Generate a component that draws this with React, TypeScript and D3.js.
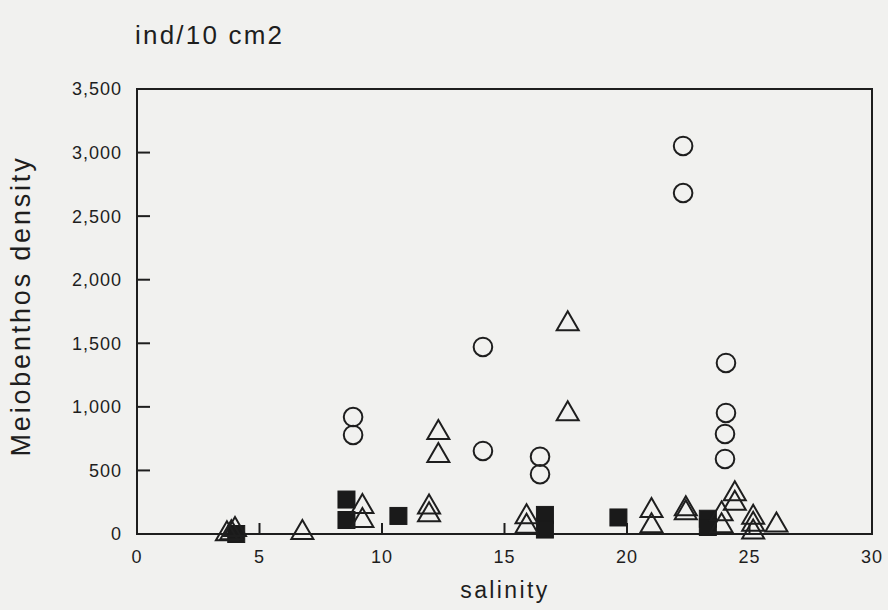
import React from "react";
import * as d3 from "d3";

const W = 888;
const H = 610;

const xTicks = [0, 5, 10, 15, 20, 25, 30];
const yTicks = [0, 500, 1000, 1500, 2000, 2500, 3000, 3500];

// open circles
const circleSalinity = [8.82, 8.82, 14.12, 14.12, 16.45, 16.45, 22.29, 22.29, 24.04, 24.04, 24.0, 24.0];
const circleDensity = [920, 779, 1471, 653, 608, 470, 3052, 2682, 1345, 952, 787, 590];

// open triangles
const triSalinity = [3.67, 4.0, 3.85, 6.75, 9.2, 9.2, 11.92, 11.92, 12.3, 12.3, 15.9, 15.9, 17.58, 17.58, 21.0, 21.0, 22.4, 22.4, 23.86, 23.86, 24.4, 24.4, 25.15, 25.15, 25.15, 26.1];
const triDensity = [0, 34, 8, 10, 215, 105, 212, 150, 797, 616, 135, 60, 1652, 944, 183, 63, 197, 165, 157, 63, 315, 240, 130, 75, 15, 70];

// filled squares
const sqSalinity = [4.05, 8.55, 8.55, 10.67, 16.65, 16.65, 19.65, 23.3, 23.3];
const sqDensity = [0, 271, 110, 142, 150, 35, 130, 120, 55];

const FONT = "'Liberation Sans', Arial, Helvetica, sans-serif";
const INK = "#1e1e1e";

export default function App() {
  const x = d3.scaleLinear().domain([0, 30]).range([137, 872]);
  const y = d3.scaleLinear().domain([0, 3500]).range([534, 89]);
  const fmt = d3.format(",");

  const triPath = (cx: number, cy: number) => {
    const w = 22, h = 19;
    return `M${cx},${cy - (2 * h) / 3}L${cx + w / 2},${cy + h / 3}L${cx - w / 2},${cy + h / 3}Z`;
  };

  return (
    <svg
      width={W}
      height={H}
      viewBox={`0 0 ${W} ${H}`}
      style={{ position: "fixed", left: 0, top: 0 }}
    >
      <rect x={0} y={0} width={W} height={H} fill="#f1f1ef" />

      {/* title */}
      <text x={135} y={44} fontFamily={FONT} fontSize={26} letterSpacing={2.2} fill={INK}>
        ind/10 cm2
      </text>

      {/* y axis label */}
      <text
        transform={`translate(30, 306) rotate(-90)`}
        textAnchor="middle"
        fontFamily={FONT}
        fontSize={27}
        letterSpacing={2.8}
        fill={INK}
      >
        Meiobenthos density
      </text>

      {/* x axis label */}
      <text x={505} y={598} textAnchor="middle" fontFamily={FONT} fontSize={23} letterSpacing={2.4} fill={INK}>
        salinity
      </text>

      {/* frame */}
      <rect
        x={x(0)}
        y={y(3500)}
        width={x(30) - x(0)}
        height={y(0) - y(3500)}
        fill="none"
        stroke={INK}
        strokeWidth={2}
      />

      {/* y ticks */}
      {yTicks.map((t) => (
        <g key={"y" + t}>
          <line x1={x(0)} x2={x(0) + 13} y1={y(t)} y2={y(t)} stroke={INK} strokeWidth={2} />
          <text
            x={122}
            y={y(t)}
            dy="0.36em"
            textAnchor="end"
            fontFamily={FONT}
            fontSize={18}
            letterSpacing={1}
            fill={INK}
          >
            {fmt(t)}
          </text>
        </g>
      ))}

      {/* x ticks */}
      {xTicks.map((t) => (
        <g key={"x" + t}>
          <line x1={x(t)} x2={x(t)} y1={y(0)} y2={y(0) - 11} stroke={INK} strokeWidth={2} />
          <text
            x={x(t)}
            y={563}
            textAnchor="middle"
            fontFamily={FONT}
            fontSize={18}
            letterSpacing={1}
            fill={INK}
          >
            {t}
          </text>
        </g>
      ))}

      {/* squares */}
      {sqSalinity.map((s, i) => (
        <rect
          key={"s" + i}
          x={x(s) - 8.5}
          y={y(sqDensity[i]) - 8.5}
          width={17}
          height={17}
          fill="#1a1a1a"
          stroke="#1a1a1a"
          strokeWidth={1}
        />
      ))}

      {/* triangles */}
      {triSalinity.map((s, i) => (
        <path
          key={"t" + i}
          d={triPath(x(s), y(triDensity[i]))}
          fill="none"
          stroke={INK}
          strokeWidth={2}
          strokeLinejoin="miter"
        />
      ))}

      {/* circles */}
      {circleSalinity.map((s, i) => (
        <circle
          key={"c" + i}
          cx={x(s)}
          cy={y(circleDensity[i])}
          r={9.3}
          fill="none"
          stroke={INK}
          strokeWidth={2}
        />
      ))}
    </svg>
  );
}
